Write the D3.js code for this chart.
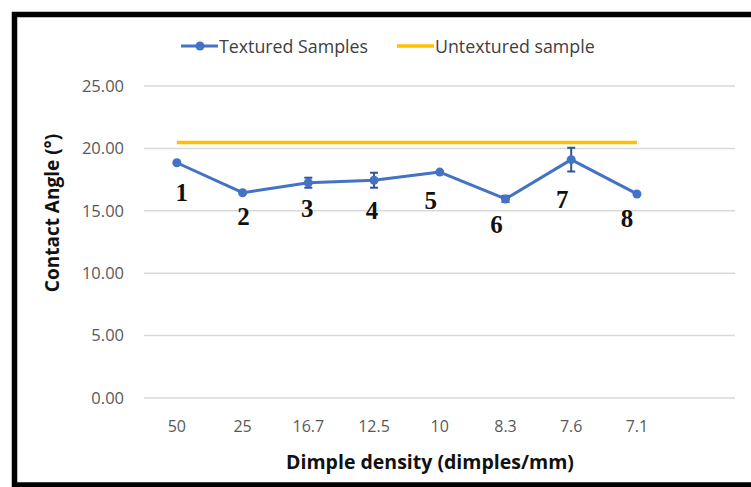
<!DOCTYPE html>
<html>
<head>
<meta charset="utf-8">
<script src="https://cdn.jsdelivr.net/npm/d3@7"></script>
<style>
  html, body { margin: 0; padding: 0; background: #fff; }
  svg { display: block; }
</style>
</head>
<body>
<svg id="chart" width="751" height="487"></svg>
<script>
// ---- data ----
const categories = ["50", "25", "16.7", "12.5", "10", "8.3", "7.6", "7.1"];
const texturedValues = [18.85, 16.45, 17.25, 17.45, 18.1, 15.95, 19.1, 16.35];
const texturedErrors = [0, 0, 0.4, 0.6, 0, 0.25, 0.95, 0];
const untexturedValue = 20.47;
const yTicks = [0, 5, 10, 15, 20, 25];
const pointLabels = ["1", "2", "3", "4", "5", "6", "7", "8"];
const seriesNames = ["Textured Samples", "Untextured sample"];
const xTitle = "Dimple density (dimples/mm)";
const yTitle = "Contact Angle (°)";

// ---- layout (not data) ----
const labelOffsets = [[5, 30], [1, 24], [-1, 26], [-2, 30], [-9, 28], [-9, 26], [-9, 40], [-10, 25]];
const blue = "#4472C4", yellow = "#FFC000", grid = "#d9d9d9", tickCol = "#595959";
const uiFont = "'Open Sans', 'DejaVu Sans', sans-serif";

const svg = d3.select("#chart");

// frame
svg.append("rect").attr("x", 14.5).attr("y", 14.5).attr("width", 760).attr("height", 470.5)
  .attr("fill", "#fff").attr("stroke", "#000").attr("stroke-width", 5.5);

const x = d3.scaleBand().domain(categories).range([144, 669.8]);
const gridRight = 735;
const y = d3.scaleLinear().domain([0, 25]).range([398, 86]);
const cx = c => x(c) + x.bandwidth() / 2;

// gridlines
svg.append("g").selectAll("line").data(yTicks).join("line")
  .attr("x1", x.range()[0]).attr("x2", gridRight)
  .attr("y1", d => y(d)).attr("y2", d => y(d))
  .attr("stroke", grid).attr("stroke-width", 1.5);

// y axis labels
const yAxis = d3.axisLeft(y).tickValues(yTicks).tickFormat(d3.format(".2f")).tickSize(0).tickPadding(0);
const gy = svg.append("g").attr("transform", "translate(124,0)").call(yAxis);
gy.select(".domain").remove();
gy.selectAll("text").attr("fill", tickCol).style("font-family", uiFont).style("font-size", "16.5px");

// x axis labels
const xAxis = d3.axisBottom(x).tickSize(0).tickPadding(0);
const gx = svg.append("g").attr("transform", "translate(0,421)").call(xAxis);
gx.select(".domain").remove();
gx.selectAll("text").attr("fill", tickCol).style("font-family", uiFont).style("font-size", "16px");

// untextured line
svg.append("line")
  .attr("x1", cx(categories[0])).attr("x2", cx(categories[categories.length - 1]))
  .attr("y1", y(untexturedValue)).attr("y2", y(untexturedValue))
  .attr("stroke", yellow).attr("stroke-width", 3.5);

// textured line
const pts = categories.map((c, i) => ({ c, v: texturedValues[i], e: texturedErrors[i], lab: pointLabels[i], off: labelOffsets[i] }));
svg.append("path").datum(pts)
  .attr("d", d3.line().x(d => cx(d.c)).y(d => y(d.v)))
  .attr("fill", "none").attr("stroke", blue).attr("stroke-width", 3).attr("stroke-linejoin", "round");

// error bars
const eb = svg.append("g").selectAll("g").data(pts.filter(d => d.e > 0)).join("g")
  .attr("stroke", "#2f5597").attr("stroke-width", 2);
eb.append("line").attr("x1", d => cx(d.c)).attr("x2", d => cx(d.c))
  .attr("y1", d => y(d.v - d.e)).attr("y2", d => y(d.v + d.e));
eb.append("line").attr("x1", d => cx(d.c) - 4).attr("x2", d => cx(d.c) + 4)
  .attr("y1", d => y(d.v - d.e)).attr("y2", d => y(d.v - d.e));
eb.append("line").attr("x1", d => cx(d.c) - 4).attr("x2", d => cx(d.c) + 4)
  .attr("y1", d => y(d.v + d.e)).attr("y2", d => y(d.v + d.e));

// markers
svg.append("g").selectAll("circle").data(pts).join("circle")
  .attr("cx", d => cx(d.c)).attr("cy", d => y(d.v)).attr("r", 4.5).attr("fill", blue);

// point labels
svg.append("g").selectAll("text").data(pts).join("text")
  .attr("x", d => cx(d.c) + d.off[0]).attr("y", d => y(d.v) + d.off[1])
  .attr("text-anchor", "middle").attr("dominant-baseline", "central")
  .style("font-family", "'Liberation Serif', 'Times New Roman', serif")
  .style("font-weight", "bold").style("font-size", "25px").attr("fill", "#111")
  .text(d => d.lab);

// axis titles
svg.append("text").attr("x", 430).attr("y", 461).attr("text-anchor", "middle")
  .attr("dominant-baseline", "central")
  .style("font-family", uiFont).style("font-weight", "bold").style("font-size", "19.5px")
  .attr("fill", "#111").text(xTitle);
svg.append("text").attr("transform", "translate(52,213) rotate(-90)").attr("text-anchor", "middle")
  .attr("dominant-baseline", "central")
  .style("font-family", uiFont).style("font-weight", "bold").style("font-size", "19px")
  .attr("fill", "#111").text(yTitle);

// legend
const leg = svg.append("g").style("font-family", uiFont).style("font-size", "17.8px");
leg.append("line").attr("x1", 181).attr("x2", 218).attr("y1", 46).attr("y2", 46)
  .attr("stroke", blue).attr("stroke-width", 3);
leg.append("circle").attr("cx", 200).attr("cy", 46).attr("r", 4.5).attr("fill", blue);
leg.append("text").attr("x", 219).attr("y", 46).attr("dominant-baseline", "central")
  .attr("fill", "#404040").text(seriesNames[0]);
leg.append("line").attr("x1", 397).attr("x2", 434).attr("y1", 46).attr("y2", 46)
  .attr("stroke", yellow).attr("stroke-width", 3.5);
leg.append("text").attr("x", 435).attr("y", 46).attr("dominant-baseline", "central")
  .attr("fill", "#404040").text(seriesNames[1]);
</script>
</body>
</html>
